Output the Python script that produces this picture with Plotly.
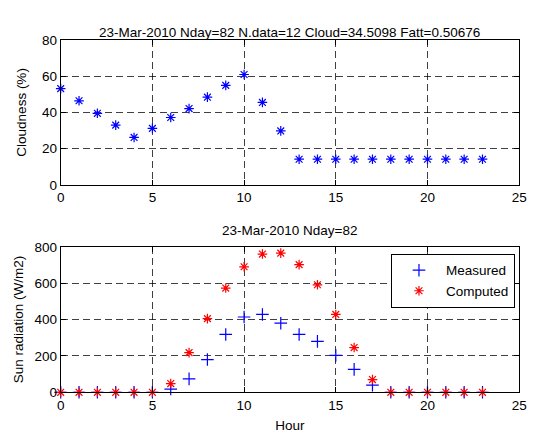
import plotly.graph_objects as go
from plotly.subplots import make_subplots

hours = list(range(24))
cloudness = [53.1, 46.4, 39.5, 33.0, 26.2, 31.2, 37.2, 42.1, 48.4, 54.9, 60.9, 45.5, 29.8,
             14.2, 14.2, 14.2, 14.2, 14.2, 14.2, 14.2, 14.2, 14.2, 14.2, 14.2]
measured = [0, 0, 0, 0, 0, 0, 18, 74, 180, 318, 414, 428, 380, 318, 280, 203, 126, 39,
            0, 0, 0, 0, 0, 0]
computed = [0, 0, 0, 0, 0, 0, 48, 218, 405, 573, 690, 760, 765, 702, 591, 428, 246, 70,
            0, 0, 0, 0, 0, 0]

title_top = "23-Mar-2010 Nday=82 N.data=12 Cloud=34.5098 Fatt=0.50676"
title_bottom = "23-Mar-2010 Nday=82"

W, H = 535, 437
FONT = "Liberation Sans, Arial, sans-serif"
FS = 13.5

fig = make_subplots(rows=2, cols=1)

fig.add_trace(go.Scatter(x=hours, y=cloudness, mode="markers", showlegend=False, cliponaxis=False,
                         marker=dict(symbol="asterisk-open", size=8, color="#0000ff",
                                     line=dict(color="#0000ff", width=1.2))), row=1, col=1)
fig.add_trace(go.Scatter(x=hours, y=measured, mode="markers", name="Measured", cliponaxis=False,
                         marker=dict(symbol="cross-thin-open", size=9, color="#0000ff",
                                     line=dict(color="#0000ff", width=1.2))), row=2, col=1)
fig.add_trace(go.Scatter(x=hours, y=computed, mode="markers", name="Computed", cliponaxis=False,
                         marker=dict(symbol="asterisk-open", size=8, color="#ff0000",
                                     line=dict(color="#ff0000", width=1.2))), row=2, col=1)

x0, x1 = 58 / W, 527 / W
axis_common = dict(showline=True, linecolor="black", linewidth=1, mirror="ticks",
                   ticks="inside", ticklen=5, tickcolor="black", showgrid=True,
                   gridcolor="rgba(0,0,0,0.75)", griddash="7px,4px", gridwidth=1,
                   zeroline=False, tickfont=dict(size=FS, color="black", family=FONT))

fig.update_xaxes(axis_common)
fig.update_yaxes(axis_common)

tfont = dict(size=FS, color="black", family=FONT)
fig.update_layout(
    xaxis=dict(domain=[x0, x1], range=[0, 25], tickvals=[0, 5, 10, 15, 20, 25]),
    xaxis2=dict(domain=[x0, x1], range=[0, 25], tickvals=[0, 5, 10, 15, 20, 25],
                title=dict(text="Hour", font=tfont, standoff=9)),
    yaxis=dict(domain=[1 - 184.3 / H, 1 - 34 / H], range=[0, 80], tickvals=[0, 20, 40, 60, 80],
               title=dict(text="Cloudness (%)", font=tfont, standoff=12)),
    yaxis2=dict(domain=[1 - 399 / H, 1 - 248.3 / H], range=[0, 800],
                tickvals=[0, 200, 400, 600, 800],
                title=dict(text="Sun radiation (W/m2)", font=tfont, standoff=7)),
    width=W, height=H,
    margin=dict(l=0, r=0, t=0, b=0),
    paper_bgcolor="white", plot_bgcolor="white",
    font=dict(family=FONT, size=FS, color="black"),
    showlegend=True,
    legend=dict(x=522.7 / W, y=1 - 255.7 / H, xanchor="right", yanchor="top",
                bordercolor="black", borderwidth=1, bgcolor="white",
                font=tfont, itemwidth=44, tracegroupgap=0),
    annotations=[
        dict(text=title_top, x=(x0 + x1) / 2, y=1 - 17 / H, xref="paper", yref="paper",
             showarrow=False, font=tfont),
        dict(text=title_bottom, x=(x0 + x1) / 2, y=1 - 231.7 / H, xref="paper", yref="paper",
             showarrow=False, font=tfont),
    ],
)

fig.write_html("out.html")
